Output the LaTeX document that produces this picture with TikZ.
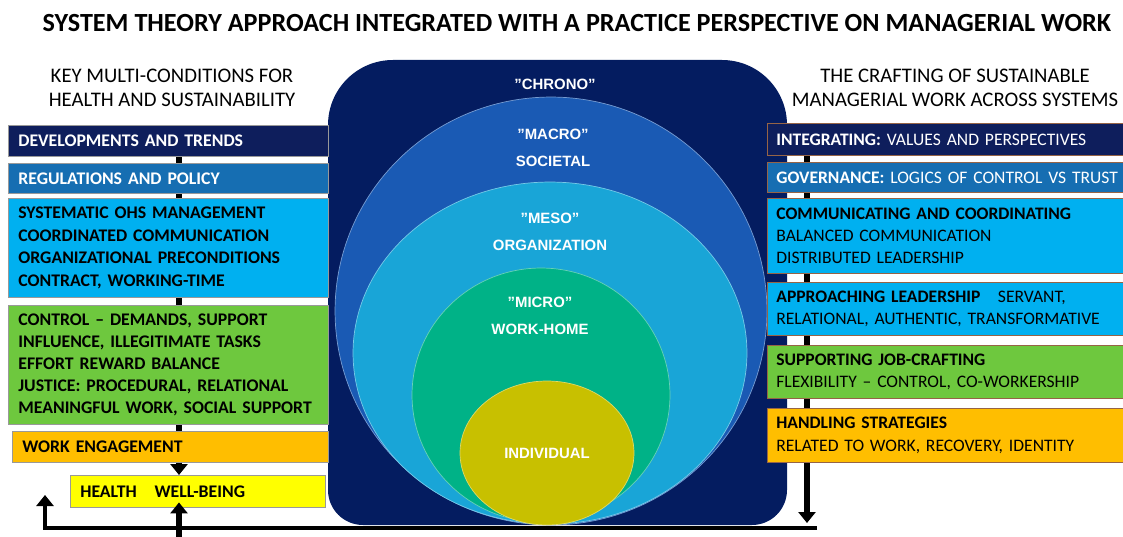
\documentclass[tikz,border=0pt]{standalone}
\usepackage{fontspec}
\setmainfont{Carlito}
\newfontfamily\ringfont{Liberation Sans}
\usetikzlibrary{arrows.meta,backgrounds}

\definecolor{chrono}{RGB}{4,28,96}
\definecolor{macro}{RGB}{26,90,180}
\definecolor{meso}{RGB}{25,165,215}
\definecolor{micro}{RGB}{0,178,135}
\definecolor{indiv}{RGB}{200,192,0}
\definecolor{navybox}{RGB}{14,30,92}
\definecolor{midbox}{RGB}{22,110,178}
\definecolor{skybox}{RGB}{0,176,240}
\definecolor{greenbox}{RGB}{110,200,62}
\definecolor{goldbox}{RGB}{255,190,0}
\definecolor{yellowbox}{RGB}{255,255,0}
\definecolor{rimline}{RGB}{150,100,70}

\tikzset{
  leftbox/.style={draw=black!40, anchor=north west, text width=6.0cm, inner xsep=0.2cm,
    inner ysep=0pt, align=left, font=\bfseries\fontsize{10.1}{13}\selectfont},
  rightbox/.style={draw=rimline, anchor=north west, text width=7.1cm, inner xsep=0.18cm,
    inner ysep=0pt, align=left, font=\fontsize{10}{12.6}\selectfont},
  ringlabel/.style={text=white, align=center, font=\ringfont\bfseries\fontsize{8.5}{15.5}\selectfont},
  headline/.style={align=center, font=\fontsize{11.8}{13.8}\selectfont},
  flow/.style={line width=3.4pt, -{Triangle[width=0.34cm,length=0.22cm]}},
}

\begin{document}
\begin{tikzpicture}[x=0.02cm, y=-0.02cm]
  \useasboundingbox (0,0) rectangle (1123,537);

  % Title and column heads
  \node [font=\bfseries\fontsize{14.9}{17}\selectfont] (title) at (577,23)
    {SYSTEM THEORY APPROACH INTEGRATED WITH A PRACTICE PERSPECTIVE ON MANAGERIAL WORK};
  \node [headline] (lefthead) at (172,88) {KEY MULTI-CONDITIONS FOR\\HEALTH AND SUSTAINABILITY};
  \node [headline] (righthead) at (955,88) {THE CRAFTING OF SUSTAINABLE\\MANAGERIAL WORK ACROSS SYSTEMS};

  % Nested systems
  \fill [chrono] (328,300) {[rounded corners=1.3cm] -- (328,60) -- (787,60) -- (787,300)}
    {[rounded corners=0.7cm] -- (787,525) -- (328,525) -- (328,300)} -- cycle;
  \filldraw [fill=macro, draw=white!40!macro] (551,311) ellipse [x radius=4.32cm, y radius=4.28cm];
  \filldraw [fill=meso, draw=white!40!meso] (550,353) ellipse [x radius=3.94cm, y radius=3.42cm];
  \filldraw [fill=micro, draw=white!40!micro] (541,395) ellipse [x radius=2.58cm, y radius=2.54cm];
  \filldraw [fill=indiv, draw=white!40!indiv] (547,453) ellipse [x radius=1.74cm, y radius=1.44cm];

  \node [ringlabel] (chronolbl) at (555,84) {”CHRONO”};
  \node [ringlabel] (macrolbl) at (553,148) {”MACRO”\\SOCIETAL};
  \node [ringlabel] (mesolbl) at (550,232) {”MESO”\\ORGANIZATION};
  \node [ringlabel] (microlbl) at (540,316) {”MICRO”\\WORK-HOME};
  \node [ringlabel] (indivlbl) at (547,453) {INDIVIDUAL};

  % Left column
  \node [leftbox, fill=navybox, text=white, minimum height=0.62cm] (dev) at (8,125)
    {DEVELOPMENTS AND TRENDS};
  \node [leftbox, fill=midbox, text=white, minimum height=0.6cm] (reg) at (8,163)
    {REGULATIONS AND POLICY};
  \node [leftbox, fill=skybox, minimum height=1.98cm] (ohs) at (8,198)
    {SYSTEMATIC OHS MANAGEMENT\\COORDINATED COMMUNICATION\\ORGANIZATIONAL PRECONDITIONS\\CONTRACT, WORKING-TIME};
  \node [leftbox, fill=greenbox, minimum height=2.38cm,
    font=\bfseries\fontsize{10.1}{12.4}\selectfont] (ctrl) at (8,305)
    {CONTROL – DEMANDS, SUPPORT\\INFLUENCE, ILLEGITIMATE TASKS\\EFFORT REWARD BALANCE\\JUSTICE: PROCEDURAL, RELATIONAL\\MEANINGFUL WORK, SOCIAL SUPPORT};
  \node [leftbox, fill=goldbox, minimum height=0.62cm, text width=5.92cm] (eng) at (12,431)
    {WORK ENGAGEMENT};
  \node [leftbox, fill=yellowbox, minimum height=0.64cm, text width=4.7cm] (hlth) at (70,475)
    {HEALTH\ \ \ WELL-BEING};

  % Right column
  \node [rightbox, fill=navybox, text=white, minimum height=0.64cm] (integ) at (767,123)
    {\textbf{INTEGRATING:} VALUES AND PERSPECTIVES};
  \node [rightbox, fill=midbox, text=white, minimum height=0.6cm] (gov) at (767,162)
    {\textbf{GOVERNANCE:} LOGICS OF CONTROL VS TRUST};
  \node [rightbox, fill=skybox, minimum height=1.5cm] (comm) at (767,198)
    {\textbf{COMMUNICATING AND COORDINATING}\\BALANCED COMMUNICATION\\DISTRIBUTED LEADERSHIP};
  \node [rightbox, fill=skybox, minimum height=1.06cm] (lead) at (767,282)
    {\textbf{APPROACHING LEADERSHIP}\ \ \ SERVANT,\\RELATIONAL, AUTHENTIC, TRANSFORMATIVE};
  \node [rightbox, fill=greenbox, minimum height=1.06cm] (craft) at (767,345)
    {\textbf{SUPPORTING JOB-CRAFTING}\\FLEXIBILITY – CONTROL, CO-WORKERSHIP};
  \node [rightbox, fill=goldbox, minimum height=1.08cm] (handl) at (767,408)
    {\textbf{HANDLING STRATEGIES}\\RELATED TO WORK, RECOVERY, IDENTITY};

  % Connectors
  \coordinate (lx) at (179,0);
  \coordinate (rx) at (807,0);
  \coordinate (rtip) at (807,523);
  \coordinate (lbottom) at (179,537);
  \coordinate (loopR) at (817,528);
  \coordinate (loopL) at (45,528);
  \coordinate (loopTip) at (45,495);
  \begin{scope}[on background layer]
    \draw [line width=3.4pt] (dev -| lx) -- (eng -| lx);
    \draw [flow] (integ -| rx) -- (rtip);
  \end{scope}
  \draw [flow] (eng.south -| lx) -- (hlth.north -| lx);
  \draw [flow, shorten >=-3pt] (lbottom) -- (hlth.south -| lx);
  \draw [flow, line width=2.8pt] (loopR) -- (loopL) -- (loopTip);
\end{tikzpicture}
\end{document}
